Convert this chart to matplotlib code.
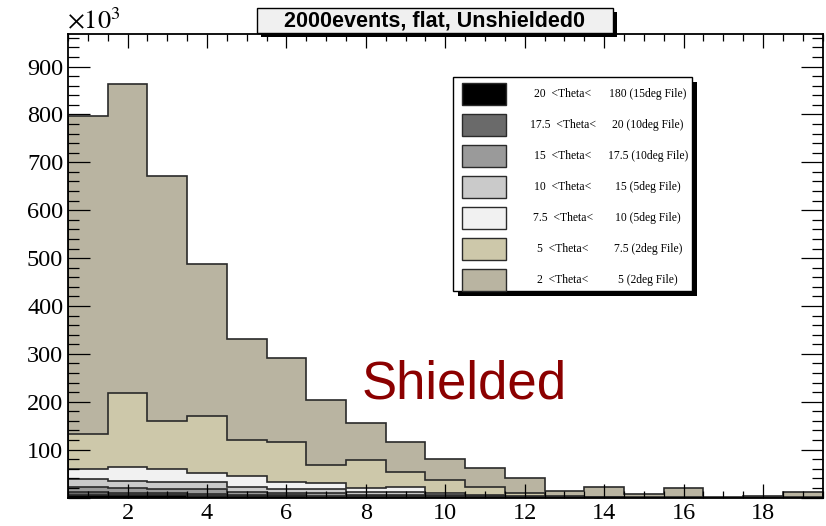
import numpy as np
import matplotlib
matplotlib.use("Agg")
import matplotlib.pyplot as plt
from matplotlib.patches import Rectangle
from matplotlib.ticker import MultipleLocator, FixedLocator

plt.rcParams["mathtext.fontset"] = "stix"

# Bin centres (width 1) and per-layer event counts (x10^3), bottom layer first
bin_centers = np.arange(1, 20)
theta_20_180 = [6, 5, 5, 4, 3, 3, 2, 2, 1, 1, 0, 0, 0, 0, 0, 0, 0, 0, 0]
theta_175_20 = [5, 5, 4, 4, 3, 2, 2, 1, 2, 1, 1, 0, 0, 0, 0, 0, 0, 0, 0]
theta_15_175 = [11, 10, 9, 9, 6, 5, 5, 3, 3, 1, 1, 1, 0, 0, 0, 0, 0, 0, 0]
theta_10_15 = [17, 15, 15, 15, 9, 7, 8, 5, 5, 2, 1, 1, 1, 0, 0, 0, 0, 0, 0]
theta_75_10 = [21, 28, 27, 20, 24, 16, 13, 8, 10, 4, 2, 1, 0, 1, 0, 0, 0, 0, 0]
theta_5_75 = [73, 155, 100, 118, 75, 83, 37, 59, 33, 28, 17, 6, 2, 1, 1, 2, 0, 1, 2]
theta_2_5 = [664, 645, 512, 317, 211, 175, 137, 77, 62, 43, 40, 32, 11, 20, 6, 18, 1, 2, 9]

layers = [theta_20_180, theta_175_20, theta_15_175, theta_10_15,
          theta_75_10, theta_5_75, theta_2_5]
layer_colors = ["#000000", "#6a6a6a", "#9a9a9a", "#cacaca",
                "#f1f1f1", "#cdc8aa", "#b9b4a1"]
legend_left = ["20  <Theta<", "17.5  <Theta<", "15  <Theta<", "10  <Theta<",
               "7.5  <Theta<", "5  <Theta<", "2  <Theta<"]
legend_right = ["180 (15deg File)", "20 (10deg File)", "17.5 (10deg File)",
                "15 (5deg File)", "10 (5deg File)", "7.5 (2deg File)",
                "5 (2deg File)"]

title_text = "2000events, flat, Unshielded0"
note_text = "Shielded"

W, H = 826, 526
fig = plt.figure(figsize=(W / 100, H / 100), dpi=100)
fig.patch.set_facecolor("white")

ax_l, ax_r, ax_t, ax_b = 68, 822.5, 33.5, 497.5
ax = fig.add_axes([ax_l / W, 1 - ax_b / H, (ax_r - ax_l) / W, (ax_b - ax_t) / H])

edges = np.concatenate([bin_centers - 0.5, [bin_centers[-1] + 0.5]])
cum = np.cumsum(np.array(layers, dtype=float), axis=0)

# Draw the stack from the full sum down, each filled from zero
for i in range(len(layers) - 1, -1, -1):
    ax.stairs(cum[i], edges, baseline=0, fill=True, facecolor=layer_colors[i],
              edgecolor="none", zorder=1)
    ax.stairs(cum[i], edges, baseline=0, fill=False, edgecolor="#2a2a2a",
              linewidth=1.2, zorder=1.1)

ax.set_xlim(0.5, 19.5)
ax.set_ylim(0, 969)

ax.xaxis.set_major_locator(MultipleLocator(2))
ax.xaxis.set_minor_locator(MultipleLocator(0.5))
ax.yaxis.set_major_locator(FixedLocator(np.arange(0, 1000, 100)))
ax.yaxis.set_minor_locator(MultipleLocator(20))
ax.set_yticklabels(["" if v == 0 else str(v) for v in np.arange(0, 1000, 100)])

ax.tick_params(axis="x", which="major", direction="in", length=10, width=0.9,
               top=True, bottom=True, pad=4)
ax.tick_params(axis="x", which="minor", direction="in", length=5, width=0.9,
               top=True, bottom=True)
ax.tick_params(axis="y", which="major", direction="in", length=16, width=0.9,
               left=True, right=True, pad=3.5)
ax.tick_params(axis="y", which="minor", direction="in", length=8, width=0.9,
               left=True, right=True)
for lab in ax.get_xticklabels() + ax.get_yticklabels():
    lab.set_fontfamily("Liberation Serif")
    lab.set_fontsize(17.5)
for sp in ax.spines.values():
    sp.set_linewidth(1.3)
    sp.set_zorder(5)

# Exponent label above the y axis
fig.text(67 / W, 1 - 29 / H, r"$\times10^{3}$", fontsize=19, ha="left",
         va="baseline")

# "Shielded" annotation
ax.text(7.9, 207, note_text, fontsize=38, color="#8b0000",
        fontfamily="Liberation Sans", ha="left", va="baseline", zorder=3)

# Overlay panel in pixel coordinates for the title and legend boxes
ov = fig.add_axes([0, 0, 1, 1])
ov.set_xlim(0, W)
ov.set_ylim(H, 0)
ov.axis("off")

# Title box with drop shadow
tx0, ty0, tx1, ty1 = 257, 8, 613, 33
ov.add_patch(Rectangle((tx0 + 4, ty0 + 4), tx1 - tx0, ty1 - ty0,
                       facecolor="black", edgecolor="none", zorder=1))
ov.add_patch(Rectangle((tx0, ty0), tx1 - tx0, ty1 - ty0, facecolor="#f0f0f0",
                       edgecolor="black", linewidth=1.0, zorder=2))
ov.text((tx0 + tx1) / 2, (ty0 + ty1) / 2 + 1, title_text, fontsize=15.5,
        fontweight="bold", fontfamily="Liberation Sans", ha="center",
        va="center", zorder=3)

# Legend box with drop shadow
lx0, ly0, lx1, ly1 = 453, 77, 692, 291
ov.add_patch(Rectangle((lx0 + 5, ly0 + 5), lx1 - lx0, ly1 - ly0,
                       facecolor="black", edgecolor="none", zorder=1))
ov.add_patch(Rectangle((lx0, ly0), lx1 - lx0, ly1 - ly0, facecolor="white",
                       edgecolor="black", linewidth=1.0, zorder=2))
row_top, row_step = 94, 31
for k in range(len(layers)):
    cy = row_top + k * row_step
    ov.add_patch(Rectangle((462, cy - 11), 44, 22, facecolor=layer_colors[k],
                           edgecolor="#2a2a2a", linewidth=1.0, zorder=3))
    ov.text(563, cy, legend_left[k], fontsize=8.4, fontfamily="Liberation Serif",
            ha="center", va="center", zorder=3)
    ov.text(648, cy, legend_right[k], fontsize=8.4, fontfamily="Liberation Serif",
            ha="center", va="center", zorder=3)

fig.savefig("out.png", dpi=100)
